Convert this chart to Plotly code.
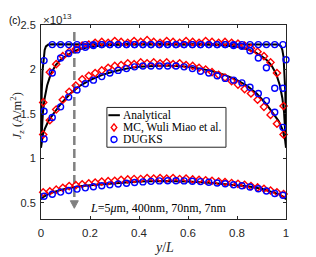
import plotly.graph_objects as go

# ---------------- data (values in units of 1e13 A/m^2) ----------------
x_an_5um = [0, 0.001, 0.003, 0.006, 0.01, 0.015, 0.02, 0.03, 0.05, 0.1, 0.5,
            0.9, 0.95, 0.97, 0.98, 0.985, 0.99, 0.994, 0.997, 0.999, 1.0]
j_an_5um = [1.15, 1.45, 1.75, 1.98, 2.14, 2.22, 2.26, 2.28, 2.285, 2.285, 2.285,
            2.285, 2.285, 2.28, 2.26, 2.22, 2.14, 1.98, 1.75, 1.45, 1.15]

x_an_400 = [0, 0.003, 0.008, 0.015, 0.025, 0.04, 0.06, 0.08, 0.1, 0.13, 0.16, 0.2,
            0.25, 0.3, 0.35, 0.5, 0.65, 0.7, 0.75, 0.8, 0.84, 0.87, 0.9, 0.92,
            0.94, 0.96, 0.975, 0.985, 0.992, 0.997, 1.0]
j_an_400 = [1.15, 1.35, 1.52, 1.68, 1.82, 1.95, 2.05, 2.11, 2.15, 2.20, 2.23, 2.255,
            2.27, 2.28, 2.285, 2.285, 2.285, 2.28, 2.27, 2.255, 2.23, 2.20, 2.15, 2.11,
            2.05, 1.95, 1.82, 1.68, 1.52, 1.35, 1.15]

x_an_70 = [0, 0.003, 0.008, 0.015, 0.03, 0.05, 0.08, 0.12, 0.16, 0.2, 0.25, 0.3,
           0.35, 0.4, 0.45, 0.5, 0.55, 0.6, 0.65, 0.7, 0.75, 0.8, 0.84, 0.88,
           0.92, 0.95, 0.97, 0.985, 0.992, 0.997, 1.0]
j_an_70 = [1.12, 1.20, 1.27, 1.33, 1.42, 1.50, 1.61, 1.73, 1.82, 1.88, 1.94, 1.98,
           2.01, 2.03, 2.04, 2.045, 2.04, 2.03, 2.01, 1.98, 1.94, 1.88, 1.82, 1.73,
           1.61, 1.50, 1.42, 1.33, 1.27, 1.20, 1.12]

x_an_7 = [0, 0.01, 0.03, 0.06, 0.1, 0.15, 0.2, 0.3, 0.4, 0.5,
          0.6, 0.7, 0.8, 0.85, 0.9, 0.94, 0.97, 0.99, 1.0]
j_an_7 = [0.54, 0.57, 0.60, 0.63, 0.66, 0.685, 0.70, 0.725, 0.742, 0.748,
          0.742, 0.725, 0.70, 0.685, 0.66, 0.63, 0.60, 0.57, 0.54]

x_dugks = [0.0125, 0.046, 0.080, 0.113, 0.147, 0.181, 0.214, 0.248, 0.281, 0.315,
           0.349, 0.382, 0.416, 0.449, 0.483, 0.517, 0.551, 0.584, 0.618, 0.651,
           0.685, 0.719, 0.752, 0.786, 0.820, 0.853, 0.887, 0.920, 0.954, 0.9875]
x_dugks_5um = x_dugks + [1.0]
j_dugks_5um = [2.10, 2.28, 2.28, 2.28, 2.28, 2.28, 2.28, 2.28, 2.28, 2.28,
               2.28, 2.28, 2.28, 2.28, 2.28, 2.28, 2.28, 2.28, 2.28, 2.28,
               2.28, 2.28, 2.28, 2.28, 2.28, 2.28, 2.28, 2.28, 2.28, 2.28, 2.11]
j_dugks_400 = [1.53, 1.96, 2.13, 2.18, 2.22, 2.25, 2.27, 2.28, 2.28, 2.28,
               2.28, 2.28, 2.28, 2.28, 2.28, 2.28, 2.28, 2.28, 2.28, 2.28,
               2.28, 2.28, 2.28, 2.27, 2.26, 2.21, 2.13, 2.02, 1.79, 1.79]
j_dugks_70 = [1.22, 1.46, 1.58, 1.69, 1.77, 1.84, 1.88, 1.92, 1.96, 1.99,
              2.01, 2.03, 2.04, 2.04, 2.04, 2.04, 2.04, 2.03, 2.01, 1.98,
              1.96, 1.93, 1.90, 1.88, 1.85, 1.80, 1.73, 1.65, 1.52, 1.35]
j_dugks_7 = [0.576, 0.598, 0.622, 0.640, 0.656, 0.670, 0.683, 0.694, 0.704, 0.713,
             0.722, 0.730, 0.737, 0.743, 0.748, 0.750, 0.750, 0.748, 0.745, 0.740,
             0.733, 0.725, 0.716, 0.705, 0.693, 0.679, 0.660, 0.635, 0.607, 0.587]

x_mc = [0.009, 0.036, 0.062, 0.089, 0.115, 0.142, 0.168, 0.195, 0.221, 0.248,
        0.274, 0.301, 0.327, 0.354, 0.380, 0.407, 0.433, 0.460, 0.486, 0.513,
        0.539, 0.566, 0.592, 0.619, 0.645, 0.672, 0.698, 0.725, 0.751, 0.778,
        0.804, 0.831, 0.857, 0.884, 0.910, 0.937, 0.963, 0.990]
j_mc_400 = [1.63, 1.97, 2.06, 2.15, 2.20, 2.23, 2.27, 2.28, 2.30, 2.31,
            2.30, 2.32, 2.31, 2.30, 2.32, 2.31, 2.33, 2.31, 2.30, 2.32,
            2.31, 2.30, 2.32, 2.31, 2.30, 2.32, 2.31, 2.30, 2.31, 2.30,
            2.29, 2.27, 2.24, 2.20, 2.15, 2.08, 1.96, 1.59]
j_mc_70 = [1.27, 1.43, 1.55, 1.66, 1.75, 1.82, 1.89, 1.93, 1.96, 1.99,
           2.02, 2.04, 2.05, 2.07, 2.06, 2.08, 2.07, 2.08, 2.07, 2.08,
           2.06, 2.07, 2.05, 2.04, 2.02, 2.00, 1.97, 1.94, 1.91, 1.87,
           1.83, 1.78, 1.73, 1.66, 1.58, 1.49, 1.39, 1.27]
j_mc_7 = [0.62, 0.63, 0.65, 0.67, 0.69, 0.70, 0.71, 0.72, 0.73, 0.74,
          0.745, 0.75, 0.76, 0.765, 0.77, 0.77, 0.78, 0.775, 0.78, 0.775,
          0.78, 0.77, 0.775, 0.765, 0.76, 0.755, 0.75, 0.74, 0.735, 0.725,
          0.715, 0.705, 0.69, 0.675, 0.66, 0.64, 0.62, 0.60]

x_ticks = [0, 0.2, 0.4, 0.6, 0.8, 1]
x_ticklabels = ["0", "0.2", "0.4", "0.6", "0.8", "1"]
y_ticks = [0.5, 1, 1.5, 2, 2.5]
y_ticklabels = ["0.5", "1", "1.5", "2", "2.5"]
legend_labels = ["Analytical", "MC, Wuli Miao et al.", "DUGKS"]

# ---------------- figure ----------------
AX = "#262626"
SERIF = "Liberation Serif"
SANS = "Liberation Sans"
RED = "#FF0000"
BLUE = "#0000FF"

fig = go.Figure()

an_sets = [(x_an_5um, j_an_5um), (x_an_400, j_an_400), (x_an_70, j_an_70), (x_an_7, j_an_7)]
for xs, ys in an_sets:
    fig.add_trace(go.Scatter(x=xs, y=ys, mode="lines", line=dict(color="black", width=2),
                             name=legend_labels[0], showlegend=False))

for ys in [j_mc_400, j_mc_70, j_mc_7]:
    fig.add_trace(go.Scatter(x=x_mc, y=ys, mode="markers",
                             marker=dict(symbol="diamond-open", size=5.5, color=RED,
                                         line=dict(width=1.4, color=RED)),
                             name=legend_labels[1], showlegend=False, cliponaxis=False))

dg_sets = [(x_dugks_5um, j_dugks_5um), (x_dugks, j_dugks_400), (x_dugks, j_dugks_70), (x_dugks, j_dugks_7)]
for xs, ys in dg_sets:
    fig.add_trace(go.Scatter(x=xs, y=ys, mode="markers",
                             marker=dict(symbol="circle-open", size=6, color=BLUE,
                                         line=dict(width=1.4, color=BLUE)),
                             name=legend_labels[2], showlegend=False, cliponaxis=False))

# dashed arrow indicating decreasing L
fig.add_shape(type="line", x0=0.136, x1=0.136, y0=2.42, y1=0.52, xref="x", yref="y",
              line=dict(color="#808080", width=2.5, dash="9px,4px"), layer="below")
fig.add_shape(type="path", xref="x", yref="y", xsizemode="pixel", xanchor=0.136,
              path="M-4,0.525 L4,0.525 L0,0.44 Z",
              fillcolor="#808080", line=dict(color="#808080", width=1))

fig.add_annotation(x=0.478, y=0.44, xref="x", yref="y", showarrow=False,
                   xanchor="center", yanchor="middle",
                   text="<i>L</i>=5<i>μ</i>m, 400nm, 70nm, 7nm",
                   font=dict(family=SERIF, size=12, color="black"))

# panel label and exponent
fig.add_annotation(x=-0.133, y=1.025, xref="paper", yref="paper", showarrow=False,
                   xanchor="left", yanchor="middle", borderpad=0,
                   text="(c)", font=dict(family=SANS, size=10, color="black"))
fig.add_annotation(x=0.0, y=1.03, xref="paper", yref="paper", showarrow=False,
                   xanchor="left", yanchor="middle",
                   text="×10<sup>13</sup>", font=dict(family=SANS, size=11.5, color=AX))

# axis titles
fig.add_annotation(x=-0.098, y=0.535, xref="paper", yref="paper", showarrow=False,
                   xanchor="center", yanchor="middle", textangle=-90, borderpad=0,
                   text="<i>J<sub>z</sub></i> (A/m<sup>2</sup>)",
                   font=dict(family=SERIF, size=12.5, color=AX))
fig.add_annotation(x=0.5, y=-0.145, xref="paper", yref="paper", showarrow=False,
                   xanchor="center", yanchor="middle", borderpad=0,
                   text="<i>y</i>/<i>L</i>", font=dict(family=SERIF, size=14, color=AX))

# compact legend (box, keys, labels)
fig.add_shape(type="rect", xref="paper", yref="paper", x0=0.269, x1=0.755, y0=0.37, y1=0.575,
              line=dict(color=AX, width=1), fillcolor="white", layer="above")
row_y = [0.535, 0.472, 0.41]
fig.add_shape(type="line", xref="paper", yref="paper", x0=0.275, x1=0.322, y0=row_y[0], y1=row_y[0],
              line=dict(color="black", width=2))
fig.add_shape(type="path", xref="paper", yref="paper", xsizemode="pixel", ysizemode="pixel",
              xanchor=0.298, yanchor=row_y[1], path="M0,3.6 L2.8,0 L0,-3.6 L-2.8,0 Z",
              line=dict(color=RED, width=1.4))
fig.add_shape(type="circle", xref="paper", yref="paper", xsizemode="pixel", ysizemode="pixel",
              xanchor=0.298, yanchor=row_y[2], x0=-3, x1=3, y0=-3, y1=3,
              line=dict(color=BLUE, width=1.4))
for lab, yy in zip(legend_labels, row_y):
    fig.add_annotation(x=0.326, y=yy, xref="paper", yref="paper", showarrow=False,
                       xanchor="left", yanchor="middle", text=lab,
                       font=dict(family=SERIF, size=11.5, color="black"))

fig.update_xaxes(range=[0, 1], tickvals=x_ticks, ticktext=x_ticklabels, ticks="inside",
                 ticklen=3, tickcolor=AX, showline=True, linecolor=AX, linewidth=1, mirror="ticks",
                 showgrid=False, zeroline=False, tickfont=dict(family=SANS, size=11.5, color=AX),
                 ticklabelstandoff=3)
fig.update_yaxes(range=[0.32, 2.5], tickvals=y_ticks, ticktext=y_ticklabels, ticks="inside",
                 ticklen=3, tickcolor=AX, showline=True, linecolor=AX, linewidth=1, mirror="ticks",
                 showgrid=False, zeroline=False, tickfont=dict(family=SANS, size=11, color=AX),
                 ticklabelstandoff=2)

# the page body has an 8px margin, so the figure is offset 8px right and down
fig.update_layout(
    width=308, height=249,
    margin=dict(l=33, r=30, t=11, b=38, pad=0),
    paper_bgcolor="white", plot_bgcolor="white",
    showlegend=False,
)

fig.write_html("out.html")
